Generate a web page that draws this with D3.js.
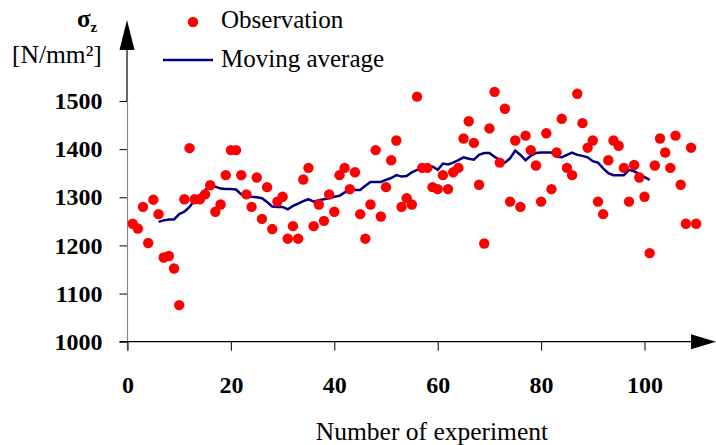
<!DOCTYPE html>
<html>
<head>
<meta charset="utf-8">
<script src="https://cdn.jsdelivr.net/npm/d3@7"></script>
</head>
<body style="margin:0">
<div class="chart"></div>
<script>
// Data
var observation = [1245, 1235, 1280, 1205, 1295, 1265, 1175, 1178, 1152, 1076,
  1296, 1402, 1296, 1296, 1306, 1325, 1270, 1285, 1346, 1398,
  1398, 1346, 1306, 1280, 1341, 1255, 1321, 1234, 1291, 1301,
  1214, 1240, 1214, 1337, 1361, 1240, 1285, 1251, 1306, 1270,
  1346, 1361, 1317, 1352, 1265, 1214, 1285, 1398, 1260, 1321,
  1377, 1418, 1280, 1298, 1285, 1509, 1361, 1361, 1321, 1317,
  1346, 1317, 1352, 1361, 1422, 1458, 1413, 1326, 1204, 1443,
  1519, 1372, 1484, 1291, 1418, 1280, 1428, 1398, 1366, 1291,
  1433, 1317, 1393, 1463, 1361, 1346, 1515, 1454, 1403, 1418,
  1291, 1265, 1377, 1418, 1407, 1361, 1291, 1367, 1341, 1301,
  1184, 1366, 1422, 1393, 1361, 1428, 1326, 1245, 1403, 1245];

// moving average starts at experiment 6
var maStart = 6;
var movingAverage = [1249, 1252, 1254, 1254, 1265, 1270, 1280, 1294, 1305, 1315,
  1325, 1322, 1318, 1317, 1317, 1316, 1306, 1303, 1301, 1300,
  1298, 1290, 1281, 1280, 1280, 1275, 1282, 1287, 1292, 1296,
  1291, 1294, 1296, 1298, 1301, 1303, 1310, 1315, 1315, 1315,
  1324, 1332, 1332, 1332, 1336, 1340, 1346, 1343, 1344, 1352,
  1357, 1360, 1362, 1364, 1357, 1370, 1368, 1372, 1377, 1383,
  1380, 1378, 1388, 1392, 1392, 1384, 1378, 1372, 1381, 1397,
  1388, 1377, 1386, 1392, 1393, 1393, 1393, 1384, 1383, 1388,
  1393, 1388, 1386, 1383, 1375, 1372, 1360, 1350, 1346, 1346,
  1346, 1357, 1354, 1348, 1342, 1336];

var xTicks = [0, 20, 40, 60, 80, 100];
var yTicks = [1000, 1100, 1200, 1300, 1400, 1500];

var svgWidth = 716;
var svgHeight = 445;
var serif = "'Liberation Serif'";

var margin = { top: 101, right: 72, bottom: 103, left: 127.5 };
var width = 644.5 - margin.left;
var height = 341.7 - margin.top;

var svg = d3.select(".chart").append("svg")
  .attr("width", svgWidth).attr("height", svgHeight);

var chartGroup = svg.append("g")
  .attr("transform", `translate(${margin.left}, ${margin.top})`);

var xScale = d3.scaleLinear().domain([0, 100]).range([0, width]);
var yScale = d3.scaleLinear().domain([1000, 1500]).range([height, 0]);

// y axis (grey line, black ticks)
var leftAxis = d3.axisLeft(yScale).tickValues(yTicks).tickSize(8).tickPadding(17)
  .tickFormat(d3.format("d"));
var yAxisG = chartGroup.append("g").call(leftAxis);
yAxisG.select(".domain").remove();
yAxisG.selectAll("line").attr("stroke", "#000");
yAxisG.selectAll("text")
  .style("font-family", serif)
  .style("font-size", "24px").style("font-weight", "bold").attr("fill", "#000");

// y axis line with arrow
chartGroup.append("line")
  .attr("x1", 0).attr("x2", 0).attr("y1", height + 9).attr("y2", 0)
  .attr("stroke", "#888").attr("stroke-width", 1.2);
chartGroup.append("line")
  .attr("x1", -0.5).attr("x2", -0.5).attr("y1", 0).attr("y2", 30 - margin.top)
  .attr("stroke", "#000").attr("stroke-width", 1.2);
chartGroup.append("path")
  .attr("d", `M${-0.5},${20 - margin.top} L${-8},${50 - margin.top} L${7},${50 - margin.top} Z`)
  .attr("fill", "#000");

// x axis
var bottomAxis = d3.axisBottom(xScale).tickValues(xTicks).tickSize(9).tickPadding(25);
var xAxisG = chartGroup.append("g").attr("transform", `translate(0, ${height})`)
  .call(bottomAxis);
xAxisG.select(".domain").remove();
xAxisG.selectAll("line").attr("stroke", "#000");
xAxisG.selectAll("text")
  .style("font-family", serif)
  .style("font-size", "24px").style("font-weight", "bold").attr("fill", "#000");

chartGroup.append("line")
  .attr("x1", -8).attr("x2", svgWidth - margin.left - 20)
  .attr("y1", height).attr("y2", height)
  .attr("stroke", "#000").attr("stroke-width", 1.2);
chartGroup.append("path")
  .attr("d", `M${svgWidth - margin.left},${height} L${svgWidth - margin.left - 25},${height - 7.5} L${svgWidth - margin.left - 25},${height + 7.5} Z`)
  .attr("fill", "#000");

// moving average line
var maLine = d3.line()
  .x((d, i) => xScale(maStart + i))
  .y(d => yScale(d));
chartGroup.append("path")
  .datum(movingAverage)
  .attr("d", maLine)
  .attr("fill", "none")
  .attr("stroke", "#000080")
  .attr("stroke-width", 2.5);

// observation dots
chartGroup.selectAll("circle.obs")
  .data(observation)
  .enter()
  .append("circle")
  .attr("class", "obs")
  .attr("cx", (d, i) => xScale(i + 1))
  .attr("cy", d => yScale(d))
  .attr("r", 5.2)
  .attr("fill", "#ff0000");

// axis titles
svg.append("text").attr("x", 432).attr("y", 440)
  .attr("text-anchor", "middle")
  .style("font-family", serif).style("font-size", "25.5px")
  .text("Number of experiment");

var sig = svg.append("text").attr("x", 77).attr("y", 27)
  .style("font-family", serif).style("font-size", "25px").style("font-weight", "bold");
sig.append("tspan").text("σ");
sig.append("tspan").attr("dy", 5).style("font-size", "15px").text("z");

svg.append("text").attr("x", 12).attr("y", 63)
  .style("font-family", serif).style("font-size", "25.5px").text("[N/mm²]");

// legend
svg.append("circle").attr("cx", 193).attr("cy", 22).attr("r", 5.2).attr("fill", "#ff0000");
svg.append("text").attr("x", 221).attr("y", 28)
  .style("font-family", serif).style("font-size", "25px").text("Observation");
svg.append("line").attr("x1", 163).attr("x2", 213).attr("y1", 60).attr("y2", 60)
  .attr("stroke", "#000080").attr("stroke-width", 2.5);
svg.append("text").attr("x", 221).attr("y", 67)
  .style("font-family", serif).style("font-size", "25px").text("Moving average");
</script>
</body>
</html>
